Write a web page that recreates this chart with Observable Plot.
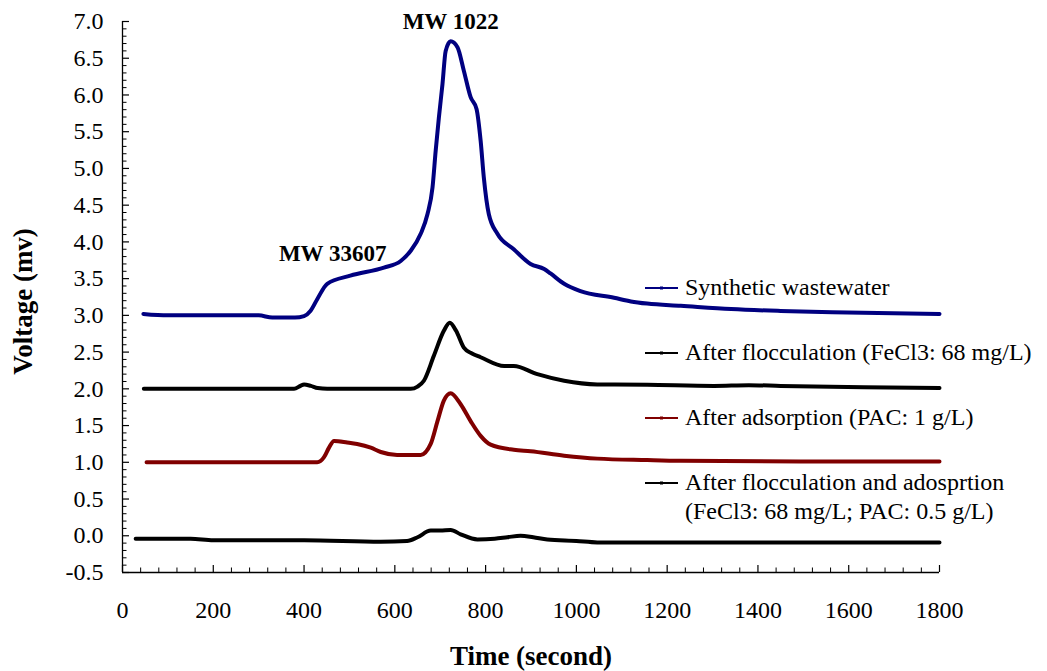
<!DOCTYPE html>
<html>
<head>
<meta charset="utf-8">
<script src="https://cdn.jsdelivr.net/npm/d3@7"></script>
<script src="https://cdn.jsdelivr.net/npm/@observablehq/plot@0.6"></script>
<style>
  html, body { margin: 0; padding: 0; background: #fff; }
  #chart { width: 1047px; height: 671px; }
</style>
</head>
<body>
<div id="chart"></div>
<script>
// Gel-permeation chromatograms: detector voltage vs. elution time

// Synthetic wastewater
const synthTime = [46, 100, 200, 300, 330, 380, 400, 414, 429, 451, 502, 576, 613, 635, 657, 672, 683, 690, 697, 705, 712, 723, 738, 752, 767, 780, 789, 796, 807, 826, 862, 899, 929, 943, 973, 1009, 1083, 1120, 1156, 1230, 1341, 1450, 1597, 1800];
const synthVolt = [3.02, 3.00, 3.00, 3.00, 2.97, 2.97, 2.99, 3.06, 3.22, 3.43, 3.54, 3.65, 3.74, 3.88, 4.11, 4.38, 4.74, 5.24, 5.69, 6.15, 6.60, 6.73, 6.65, 6.33, 5.97, 5.81, 5.38, 4.88, 4.38, 4.11, 3.90, 3.70, 3.63, 3.57, 3.43, 3.33, 3.24, 3.19, 3.16, 3.13, 3.085, 3.06, 3.04, 3.02];

// After flocculation (FeCl3: 68 mg/L)
const floccTime = [47, 200, 378, 392, 400, 415, 430, 451, 550, 635, 650, 664, 686, 708, 721, 735, 752, 770, 789, 841, 862, 914, 973, 1046, 1156, 1303, 1380, 1450, 1634, 1800];
const floccVolt = [2.00, 2.00, 2.00, 2.04, 2.06, 2.04, 2.01, 2.00, 2.00, 2.00, 2.03, 2.11, 2.45, 2.79, 2.90, 2.79, 2.56, 2.48, 2.43, 2.31, 2.31, 2.20, 2.11, 2.06, 2.055, 2.04, 2.05, 2.04, 2.02, 2.01];

// After adsorption (PAC: 1 g/L)
const adsTime = [53, 200, 429, 444, 455, 466, 495, 517, 547, 569, 605, 657, 679, 694, 708, 723, 745, 767, 789, 811, 862, 899, 973, 1046, 1156, 1230, 1500, 1800];
const adsVolt = [1.00, 1.00, 1.00, 1.07, 1.20, 1.29, 1.27, 1.25, 1.20, 1.14, 1.10, 1.10, 1.25, 1.56, 1.84, 1.94, 1.79, 1.56, 1.36, 1.24, 1.17, 1.15, 1.09, 1.05, 1.03, 1.02, 1.01, 1.01];

// After flocculation and adsorption (FeCl3: 68 mg/L; PAC: 0.5 g/L)
const bothTime = [29, 150, 200, 400, 569, 627, 650, 679, 700, 723, 745, 782, 820, 848, 877, 905, 936, 1000, 1046, 1230, 1800];
const bothVolt = [-0.04, -0.04, -0.06, -0.06, -0.08, -0.07, -0.02, 0.07, 0.07, 0.08, 0.02, -0.05, -0.04, -0.02, 0.00, -0.02, -0.05, -0.07, -0.09, -0.09, -0.09];

const seriesNames = [
  ["Synthetic wastewater"],
  ["After flocculation (FeCl3: 68 mg/L)"],
  ["After adsorption (PAC: 1 g/L)"],
  ["After flocculation and adosprtion", "(FeCl3: 68 mg/L; PAC: 0.5 g/L)"]
];
const seriesColors = ["#000080", "#000000", "#800000", "#000000"];

const xMajor = d3.range(0, 1801, 200);
const xMinor = d3.range(0, 1801, 40).filter(t => t % 200 !== 0);
const yMajor = d3.range(-5, 71, 5).map(v => v / 10);
const yMinor = d3.range(-5, 71, 1).filter(v => v % 5 !== 0).map(v => v / 10);

const peakLabels = ["MW 1022", "MW 33607"];
const peakTimes = [723, 463];
const peakLabelVolts = [7.0, 3.84];

const toRows = (ts, vs) => ts.map((t, i) => ({t, v: vs[i]}));
const series = [
  toRows(synthTime, synthVolt),
  toRows(floccTime, floccVolt),
  toRows(adsTime, adsVolt),
  toRows(bothTime, bothVolt)
];

const serif = "'Liberation Serif', 'Times New Roman', Times, serif";

const plot = Plot.plot({
  width: 1047,
  height: 671,
  marginLeft: 122,
  marginRight: 108,
  marginTop: 21,
  marginBottom: 99,
  x: {domain: [0, 1800]},
  y: {domain: [-0.5, 7]},
  style: {fontFamily: serif, fontSize: "24px", color: "#000", background: "#fff", overflow: "visible"},
  marks: [
    // inward major / minor ticks
    Plot.axisX({ticks: xMajor, tickSize: -7, tickFormat: () => "", label: null, strokeWidth: 1.2}),
    Plot.axisX({ticks: xMinor, tickSize: -4.5, tickFormat: () => "", label: null, strokeWidth: 1}),
    Plot.axisY({ticks: yMajor, tickSize: -7, tickFormat: () => "", label: null, strokeWidth: 1.2}),
    Plot.axisY({ticks: yMinor, tickSize: -4.5, tickFormat: () => "", label: null, strokeWidth: 1}),
    // tick labels
    Plot.axisX({ticks: xMajor, tickSize: 0, tickPadding: 28, tickFormat: d => String(d), label: null, fontSize: 24, fontFamily: serif}),
    Plot.axisY({ticks: yMajor, tickSize: 0, tickPadding: 19, tickFormat: d => d.toFixed(1), label: null, fontSize: 24, fontFamily: serif}),
    // axis lines
    Plot.ruleX([0], {stroke: "#000", strokeWidth: 1.3}),
    Plot.ruleY([-0.5], {stroke: "#000", strokeWidth: 1.3}),
    // chromatograms
    ...series.map((rows, i) => Plot.line(rows, {
      x: "t", y: "v", stroke: seriesColors[i], strokeWidth: 4, curve: "monotone-x",
      strokeLinejoin: "round", strokeLinecap: "round"
    })),
    // peak annotations
    Plot.text(peakLabels, {
      x: (d, i) => peakTimes[i], y: (d, i) => peakLabelVolts[i], text: d => d,
      fontWeight: "bold", fontSize: 23, fontFamily: serif, textAnchor: "middle", lineAnchor: "middle", fill: "#000"
    }),
    // axis titles
    Plot.text(["Time (second)"], {
      frameAnchor: "bottom", dy: 84, text: d => d, fontWeight: "bold", fontSize: 27,
      fontFamily: serif, textAnchor: "middle", lineAnchor: "middle", fill: "#000"
    }),
    Plot.text(["Voltage (mv)"], {
      frameAnchor: "left", dx: -99.5, dy: 4.5, rotate: -90, text: d => d, fontWeight: "bold", fontSize: 27,
      fontFamily: serif, textAnchor: "middle", lineAnchor: "middle", fill: "#000"
    })
  ]
});

// legend inside the plotting area
const svg = d3.select(plot);
const legend = svg.append("g")
  .attr("font-family", serif)
  .attr("font-size", 24)
  .attr("text-anchor", "start");
const legendX = 645, legendTextX = 685, legendTop = 295, legendStep = 65;
seriesNames.forEach((lines, i) => {
  const base = legendTop + i * legendStep;
  legend.append("line")
    .attr("x1", legendX).attr("x2", legendX + 33)
    .attr("y1", base - 7).attr("y2", base - 7)
    .attr("stroke", seriesColors[i]).attr("stroke-width", 2);
  legend.append("rect")
    .attr("x", legendX + 15).attr("y", base - 8.5)
    .attr("width", 3).attr("height", 3)
    .attr("fill", seriesColors[i]);
  lines.forEach((line, j) => {
    legend.append("text")
      .attr("x", legendTextX).attr("y", base + j * 28.5)
      .attr("text-anchor", "start")
      .attr("fill", "#000")
      .text(line);
  });
});

document.getElementById("chart").appendChild(plot);
</script>
</body>
</html>
